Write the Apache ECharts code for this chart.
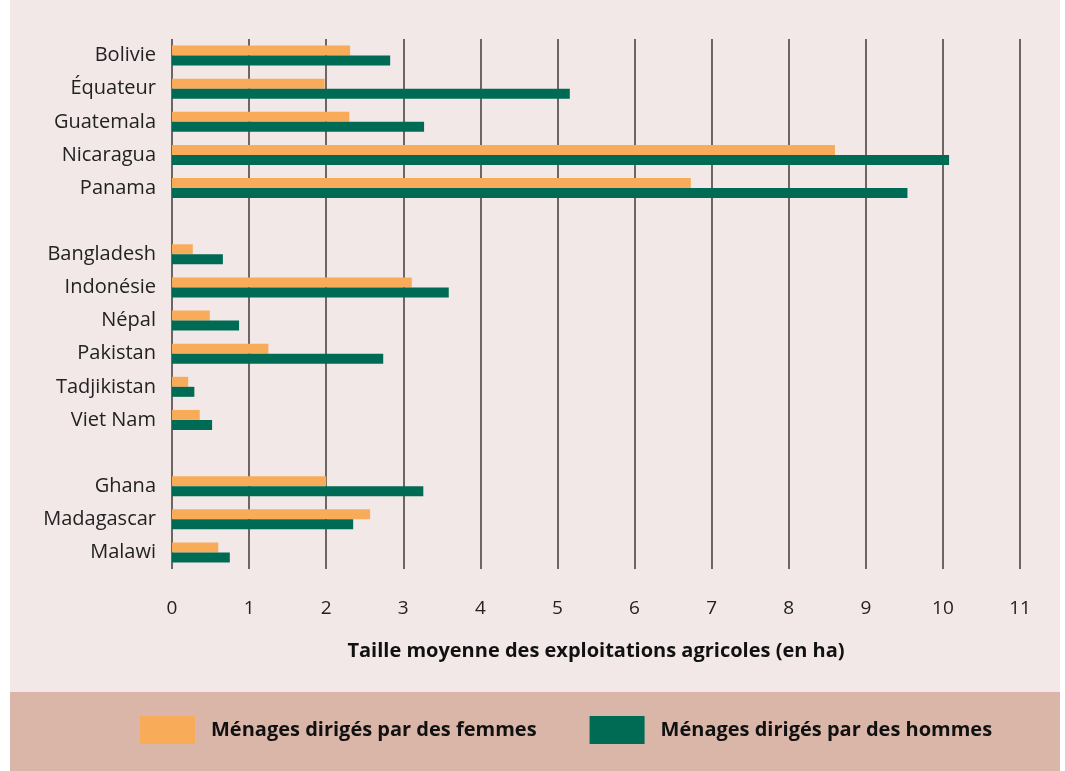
<!DOCTYPE html>
<html>
<head>
<meta charset="utf-8">
<script src="https://cdn.jsdelivr.net/npm/echarts@6/dist/echarts.min.js"></script>
<style>
  html, body { margin: 0; padding: 0; background: #ffffff; }
  #chart { width: 1065px; height: 771px; }
</style>
</head>
<body>
<div id="chart"></div>
<script>
// empty strings are the gaps between the three groups of countries
var pays = ['Bolivie', 'Équateur', 'Guatemala', 'Nicaragua', 'Panama', '',
  'Bangladesh', 'Indonésie', 'Népal', 'Pakistan', 'Tadjikistan', 'Viet Nam', '',
  'Ghana', 'Madagascar', 'Malawi'];
var femmes = [2.31, 1.98, 2.30, 8.60, 6.73, null,
  0.27, 3.11, 0.49, 1.25, 0.21, 0.36, null,
  2.00, 2.57, 0.60];
var hommes = [2.83, 5.16, 3.27, 10.08, 9.54, null,
  0.66, 3.59, 0.87, 2.74, 0.29, 0.52, null,
  3.26, 2.35, 0.75];
var nomFemmes = 'Ménages dirigés par des femmes';
var nomHommes = 'Ménages dirigés par des hommes';

var chart = echarts.init(document.getElementById('chart'));
var police = '"Open Sans", "Noto Sans", sans-serif';

var option = {
  animation: false,
  backgroundColor: '#ffffff',
  textStyle: { fontFamily: police },
  graphic: [
    { type: 'rect', z: -10, silent: true,
      shape: { x: 10, y: 0, width: 1050, height: 692 },
      style: { fill: '#f2e8e7' } },
    { type: 'rect', z: -10, silent: true,
      shape: { x: 10, y: 692, width: 1050, height: 79 },
      style: { fill: '#dab6a8' } }
  ],
  legend: {
    data: [nomFemmes, nomHommes],
    left: 135,
    top: 711,
    itemWidth: 55,
    itemHeight: 28,
    itemGap: 53,
    icon: 'rect',
    textStyle: {
      fontFamily: police,
      fontSize: 20,
      fontWeight: 'bold',
      color: '#111',
      padding: [0, 0, 0, 11]
    }
  },
  grid: {
    left: 172,
    right: 45,
    top: 39,
    bottom: 202
  },
  xAxis: {
    type: 'value',
    min: 0,
    max: 11,
    interval: 1,
    name: 'Taille moyenne des exploitations agricoles (en ha)',
    nameLocation: 'middle',
    nameGap: 72,
    nameTextStyle: { fontFamily: police, fontSize: 20, fontWeight: 'bold', color: '#111' },
    axisLine: { show: false },
    axisTick: { show: false },
    axisLabel: { fontFamily: police, fontSize: 19, color: '#222', margin: 30 },
    splitLine: { show: true, lineStyle: { color: '#4a4444', width: 1.6 } }
  },
  yAxis: {
    type: 'category',
    data: pays,
    inverse: true,
    axisLine: { show: false },
    axisTick: { show: false },
    axisLabel: { fontFamily: police, fontSize: 20, color: '#222', margin: 16 },
    splitLine: { show: false }
  },
  series: [
    {
      name: nomFemmes,
      type: 'bar',
      data: femmes,
      barWidth: 10,
      barGap: '0%',
      itemStyle: { color: '#f8ac5a' }
    },
    {
      name: nomHommes,
      type: 'bar',
      data: hommes,
      barWidth: 10,
      barGap: '0%',
      itemStyle: { color: '#006b54' }
    }
  ]
};

chart.setOption(option);
</script>
</body>
</html>
